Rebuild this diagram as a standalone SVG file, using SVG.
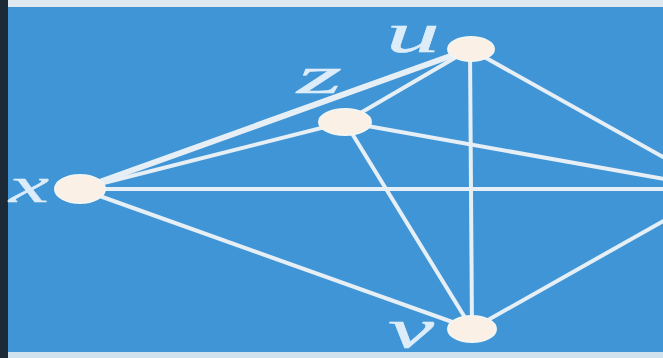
<svg xmlns="http://www.w3.org/2000/svg" width="663" height="358" viewBox="0 0 663 358">
<style>
.e{stroke:#e6eef6;stroke-width:4;stroke-linecap:round;fill:none}
.n{fill:#fbf0e6;stroke:#f4f4f0;stroke-width:2}
.l{font-family:"Liberation Serif",serif;font-style:italic;fill:#dcecf9;stroke:#dcecf9;stroke-width:0.4}
</style>
<rect x="0" y="0" width="663" height="358" fill="#3f95d5"/>
<rect x="0" y="0" width="663" height="7" fill="#dfe9ef"/>
<rect x="0" y="352" width="663" height="6" fill="#cfe2ee"/>
<rect x="0" y="0" width="8" height="358" fill="#1c2a38"/>
<g id="connectors">
<line class="e" x1="80" y1="189" x2="470" y2="49" style="stroke-width:6"/>
<line class="e" x1="80" y1="189" x2="345" y2="122"/>
<line class="e" x1="345" y1="122" x2="470" y2="49"/>
<line class="e" x1="80" y1="189" x2="720" y2="189"/>
<line class="e" x1="80" y1="189" x2="472" y2="329"/>
<line class="e" x1="345" y1="122" x2="472" y2="329"/>
<line class="e" x1="345" y1="122" x2="720" y2="189"/>
<line class="e" x1="470" y1="49" x2="472" y2="329"/>
<line class="e" x1="470" y1="49" x2="720" y2="189"/>
<line class="e" x1="472" y1="329" x2="720" y2="189"/>
</g>
<g id="u"><ellipse class="n" cx="471" cy="49" rx="23" ry="12"/><text class="l" x="386" y="52" font-size="56" textLength="54" lengthAdjust="spacingAndGlyphs">u</text></g>
<g id="z"><ellipse class="n" cx="345" cy="122" rx="26" ry="13"/><text class="l" x="297" y="93" font-size="52" textLength="45" lengthAdjust="spacingAndGlyphs">z</text></g>
<g id="x"><ellipse class="n" cx="80" cy="189" rx="25" ry="14"/><text class="l" x="9" y="202" font-size="50" textLength="40" lengthAdjust="spacingAndGlyphs">x</text></g>
<g id="v"><ellipse class="n" cx="472" cy="329" rx="24" ry="13"/><text class="l" x="388" y="347" font-size="54" textLength="46" lengthAdjust="spacingAndGlyphs">v</text></g>
</svg>
